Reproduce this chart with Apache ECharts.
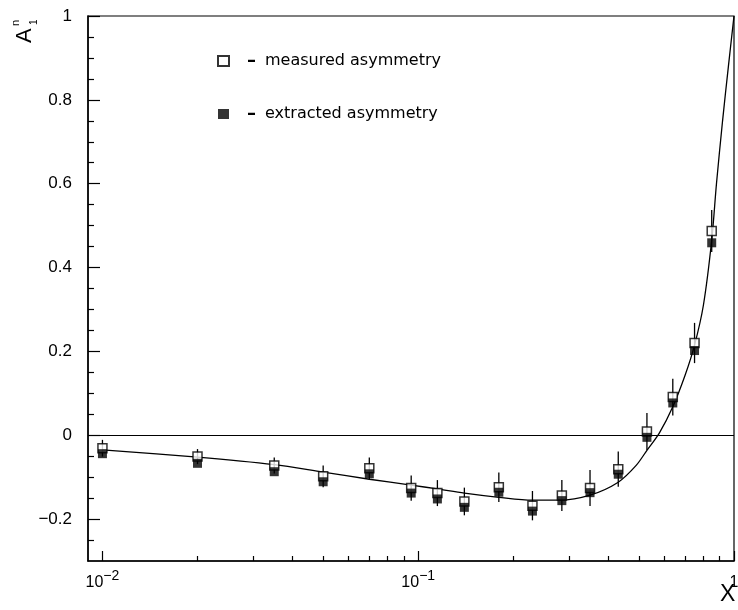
<!DOCTYPE html>
<html>
<head>
<meta charset="utf-8">
<script src="https://cdn.jsdelivr.net/npm/echarts@6/dist/echarts.min.js"></script>
<style>
  html, body { margin: 0; padding: 0; background: #fff; }
  #chart { width: 738px; height: 610px; }
</style>
</head>
<body>
<div id="chart"></div>
<script>
// Bjorken x of each data point
const xVals = [0.01, 0.02, 0.035, 0.05, 0.07, 0.095, 0.115, 0.14, 0.18, 0.23, 0.285, 0.35, 0.43, 0.53, 0.64, 0.75, 0.85];
// measured asymmetry (open squares)
const measured = [-0.031, -0.051, -0.072, -0.098, -0.079, -0.126, -0.138, -0.158, -0.124, -0.168, -0.144, -0.126, -0.081, 0.009, 0.091, 0.22, 0.487];
// extracted asymmetry (filled squares)
const extracted = [-0.044, -0.067, -0.087, -0.111, -0.092, -0.138, -0.152, -0.172, -0.136, -0.181, -0.156, -0.137, -0.093, -0.005, 0.077, 0.202, 0.459];
// half-length of the error bars on the measured points
const errors = [0.02, 0.018, 0.019, 0.026, 0.026, 0.03, 0.031, 0.033, 0.035, 0.035, 0.037, 0.043, 0.042, 0.044, 0.044, 0.048, 0.05];

// model curve
const curveX = [0.01, 0.02, 0.035, 0.05, 0.07, 0.095, 0.115, 0.14, 0.18, 0.23, 0.28, 0.35, 0.43, 0.49, 0.53, 0.58, 0.64, 0.70, 0.75, 0.80, 0.85, 0.88, 0.92, 0.96, 1.0];
const curveY = [-0.035, -0.052, -0.070, -0.088, -0.105, -0.119, -0.128, -0.138, -0.148, -0.155, -0.155, -0.143, -0.112, -0.072, -0.036, 0.005, 0.068, 0.143, 0.215, 0.31, 0.465, 0.60, 0.75, 0.88, 1.0];

// axis ticks and labels
const xMajorTicks = [0.01, 0.1, 1];
const xMinorTicks = [0.02, 0.03, 0.04, 0.05, 0.06, 0.07, 0.08, 0.09, 0.2, 0.3, 0.4, 0.5, 0.6, 0.7, 0.8, 0.9];
const yMajorTicks = [-0.2, 0, 0.2, 0.4, 0.6, 0.8, 1];
const yMinorTicks = [-0.25, -0.15, -0.1, -0.05, 0.05, 0.1, 0.15, 0.25, 0.3, 0.35, 0.45, 0.5, 0.55, 0.65, 0.7, 0.75, 0.85, 0.9, 0.95];

const seriesNames = ['measured asymmetry', 'extracted asymmetry'];

const FONT = '"Liberation Sans", Arial, Helvetica, sans-serif';
const chart = echarts.init(document.getElementById('chart'), null, { renderer: 'canvas' });

function xLabel(v) {
  const e = Math.round(Math.log10(v));
  if (e === 0) return '{n|1}';
  return '{n|10}{s|−' + Math.abs(e) + '}';
}
function yLabel(v) {
  if (Math.abs(v) < 1e-9) return '0';
  if (Math.abs(v - 1) < 1e-9) return '1';
  return (v < 0 ? '−' : '') + Math.abs(v).toFixed(1);
}

const baseX = {
  type: 'log', logBase: 10, min: 0.009, max: 1, position: 'bottom',
  splitLine: { show: false }, minorTick: { show: false }, minorSplitLine: { show: false }
};
const baseY = {
  type: 'value', min: -0.3, max: 1, position: 'left',
  splitLine: { show: false }, minorTick: { show: false }, minorSplitLine: { show: false }
};

const option = {
  animation: false,
  backgroundColor: '#fff',
  grid: {
    left: 88, right: 4, top: 16, bottom: 49, outerBoundsMode: 'none', containLabel: false,
    show: true, borderColor: '#000', borderWidth: 1.2, backgroundColor: 'transparent'
  },
  legend: {
    data: seriesNames,
    orient: 'vertical', left: 217, top: 52, padding: 0,
    itemWidth: 11, itemHeight: 10, itemGap: 35,
    icon: 'rect', selectedMode: false,
    formatter: name => '{d|–}{t|' + name + '}',
    textStyle: {
      color: '#000',
      rich: {
        d: { fontFamily: '"DejaVu Sans", sans-serif', fontSize: 18, fontWeight: 'bold', color: '#000', padding: [0, 9, 0, 13] },
        t: { fontFamily: '"DejaVu Sans", sans-serif', fontSize: 16, color: '#000' }
      }
    }
  },
  xAxis: [
    Object.assign({}, baseX, {
      axisLine: { show: true, onZero: false, lineStyle: { color: '#000', width: 1.5 } },
      axisTick: { show: true, inside: true, length: 10, customValues: xMajorTicks, lineStyle: { color: '#000', width: 1.2 } },
      axisLabel: {
        customValues: xMajorTicks, formatter: xLabel, margin: 8, color: '#000',
        rich: {
          n: { fontFamily: FONT, fontSize: 16, color: '#000', verticalAlign: 'bottom', lineHeight: 22 },
          s: { fontFamily: FONT, fontSize: 14, color: '#000', verticalAlign: 'top', lineHeight: 22 }
        }
      }
    }),
    Object.assign({}, baseX, {
      axisLine: { show: false, onZero: false },
      axisTick: { show: true, inside: true, length: 5, customValues: xMinorTicks, lineStyle: { color: '#000', width: 1.2 } },
      axisLabel: { show: false }
    })
  ],
  yAxis: [
    Object.assign({}, baseY, {
      axisLine: { show: true, onZero: false, lineStyle: { color: '#000', width: 1.5 } },
      axisTick: { show: true, inside: true, length: 12, customValues: yMajorTicks, lineStyle: { color: '#000', width: 1.2 } },
      axisLabel: { customValues: yMajorTicks, formatter: yLabel, margin: 16, color: '#000', fontFamily: FONT, fontSize: 17 }
    }),
    Object.assign({}, baseY, {
      axisLine: { show: false, onZero: false },
      axisTick: { show: true, inside: true, length: 6, customValues: yMinorTicks, lineStyle: { color: '#000', width: 1.2 } },
      axisLabel: { show: false }
    })
  ],
  series: [
    {
      name: 'model', type: 'line', smooth: 0.3, symbol: 'none', z: 2,
      data: curveX.map((x, i) => [x, curveY[i]]),
      lineStyle: { color: '#000', width: 1.3 },
      markLine: {
        silent: true, symbol: 'none', animation: false,
        label: { show: false },
        lineStyle: { color: '#000', width: 1, type: 'solid' },
        data: [{ yAxis: 0 }]
      }
    },
    {
      name: 'errors', type: 'custom', z: 3,
      data: xVals.map((x, i) => [x, measured[i], errors[i]]),
      encode: { x: 0, y: 1 },
      renderItem: (params, api) => {
        const x = api.value(0), y = api.value(1), e = api.value(2);
        const top = api.coord([x, y + e]);
        const bottom = api.coord([x, y - e]);
        return {
          type: 'line',
          shape: { x1: top[0], y1: top[1], x2: bottom[0], y2: bottom[1] },
          style: { stroke: '#000', lineWidth: 1.3 }
        };
      }
    },
    {
      name: seriesNames[0], type: 'scatter', symbol: 'rect', symbolSize: 9, z: 4,
      data: xVals.map((x, i) => [x, measured[i]]),
      itemStyle: { color: '#fff', borderColor: '#000', borderWidth: 1.5 }
    },
    {
      name: seriesNames[1], type: 'scatter', symbol: 'rect', symbolSize: 9, z: 5,
      data: xVals.map((x, i) => [x, extracted[i]]),
      itemStyle: { color: '#000', borderColor: '#000', borderWidth: 0 }
    }
  ],
  graphic: [
    {
      // axis title A_1^n, reading bottom to top
      type: 'group', x: 33, y: 43, rotation: Math.PI / 2,
      children: [
        { type: 'text', x: 0, y: -8, style: { text: 'A', font: '22px ' + FONT, fill: '#000', verticalAlign: 'middle', align: 'left' } },
        { type: 'text', x: 18, y: 1, style: { text: '1', font: '10px ' + FONT, fill: '#000', verticalAlign: 'middle', align: 'left' } },
        { type: 'text', x: 17, y: -17, style: { text: 'n', font: '11px ' + FONT, fill: '#000', verticalAlign: 'middle', align: 'left' } }
      ]
    },
    {
      type: 'text', x: 720, y: 583,
      style: { text: 'X', font: '23px ' + FONT, fill: '#000', verticalAlign: 'top', align: 'left' }
    }
  ]
};

chart.setOption(option);
</script>
</body>
</html>
